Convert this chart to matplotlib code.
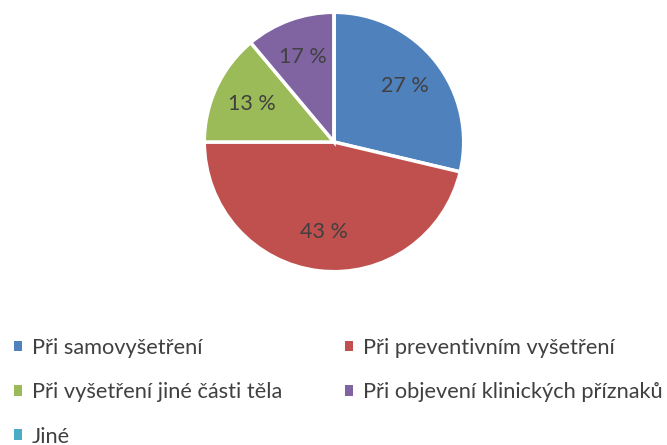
import numpy as np
import matplotlib.pyplot as plt
from matplotlib.patches import Patch

plt.rcParams['font.family'] = ['Lato', 'DejaVu Sans']

categories = ['Při samovyšetření', 'Při preventivním vyšetření',
              'Při vyšetření jiné části těla', 'Při objevení klinických příznaků',
              'Jiné']
# slice sizes as drawn in the picture, labels as printed on it
sizes = [28.7, 46.3, 13.9, 11.1, 0.0]
pct_labels = ['27 %', '43 %', '13 %', '17 %', '']
colors = ['#4F81BD', '#C0504D', '#9BBB59', '#8064A2', '#4BACC6']

fig = plt.figure(figsize=(6.67, 4.45), dpi=100)
ax = fig.add_axes([(334 - 131) / 667, (445 - 273) / 445, 262 / 667, 262 / 445])

wedges, _ = ax.pie(sizes, colors=colors, startangle=90, counterclock=False,
                   radius=1, wedgeprops=dict(edgecolor='white', linewidth=2.5))
ax.set_xlim(-1.01, 1.01)
ax.set_ylim(-1.01, 1.01)
ax.set_aspect('equal')
ax.axis('off')

for w, lab in zip(wedges, pct_labels):
    if not lab:
        continue
    ang = np.deg2rad((w.theta1 + w.theta2) / 2)
    ax.text(0.7 * np.cos(ang), 0.7 * np.sin(ang), lab, ha='center', va='center',
            fontsize=15.5, color='#404040')

# legend reads row by row, matplotlib fills column by column
order = [0, 2, 4, 1, 3]
handles = [Patch(facecolor=colors[i], edgecolor='none') for i in order]
fig.legend(handles, [categories[i] for i in order], ncol=2, loc='upper left',
           bbox_to_anchor=(0.021, 0.241), frameon=False, fontsize=15.7,
           handlelength=0.37, handleheight=0.37, handletextpad=0.45,
           labelspacing=1.12, columnspacing=2.9, labelcolor='#404040',
           borderaxespad=0, borderpad=0)

fig.savefig('out.png', dpi=100)
